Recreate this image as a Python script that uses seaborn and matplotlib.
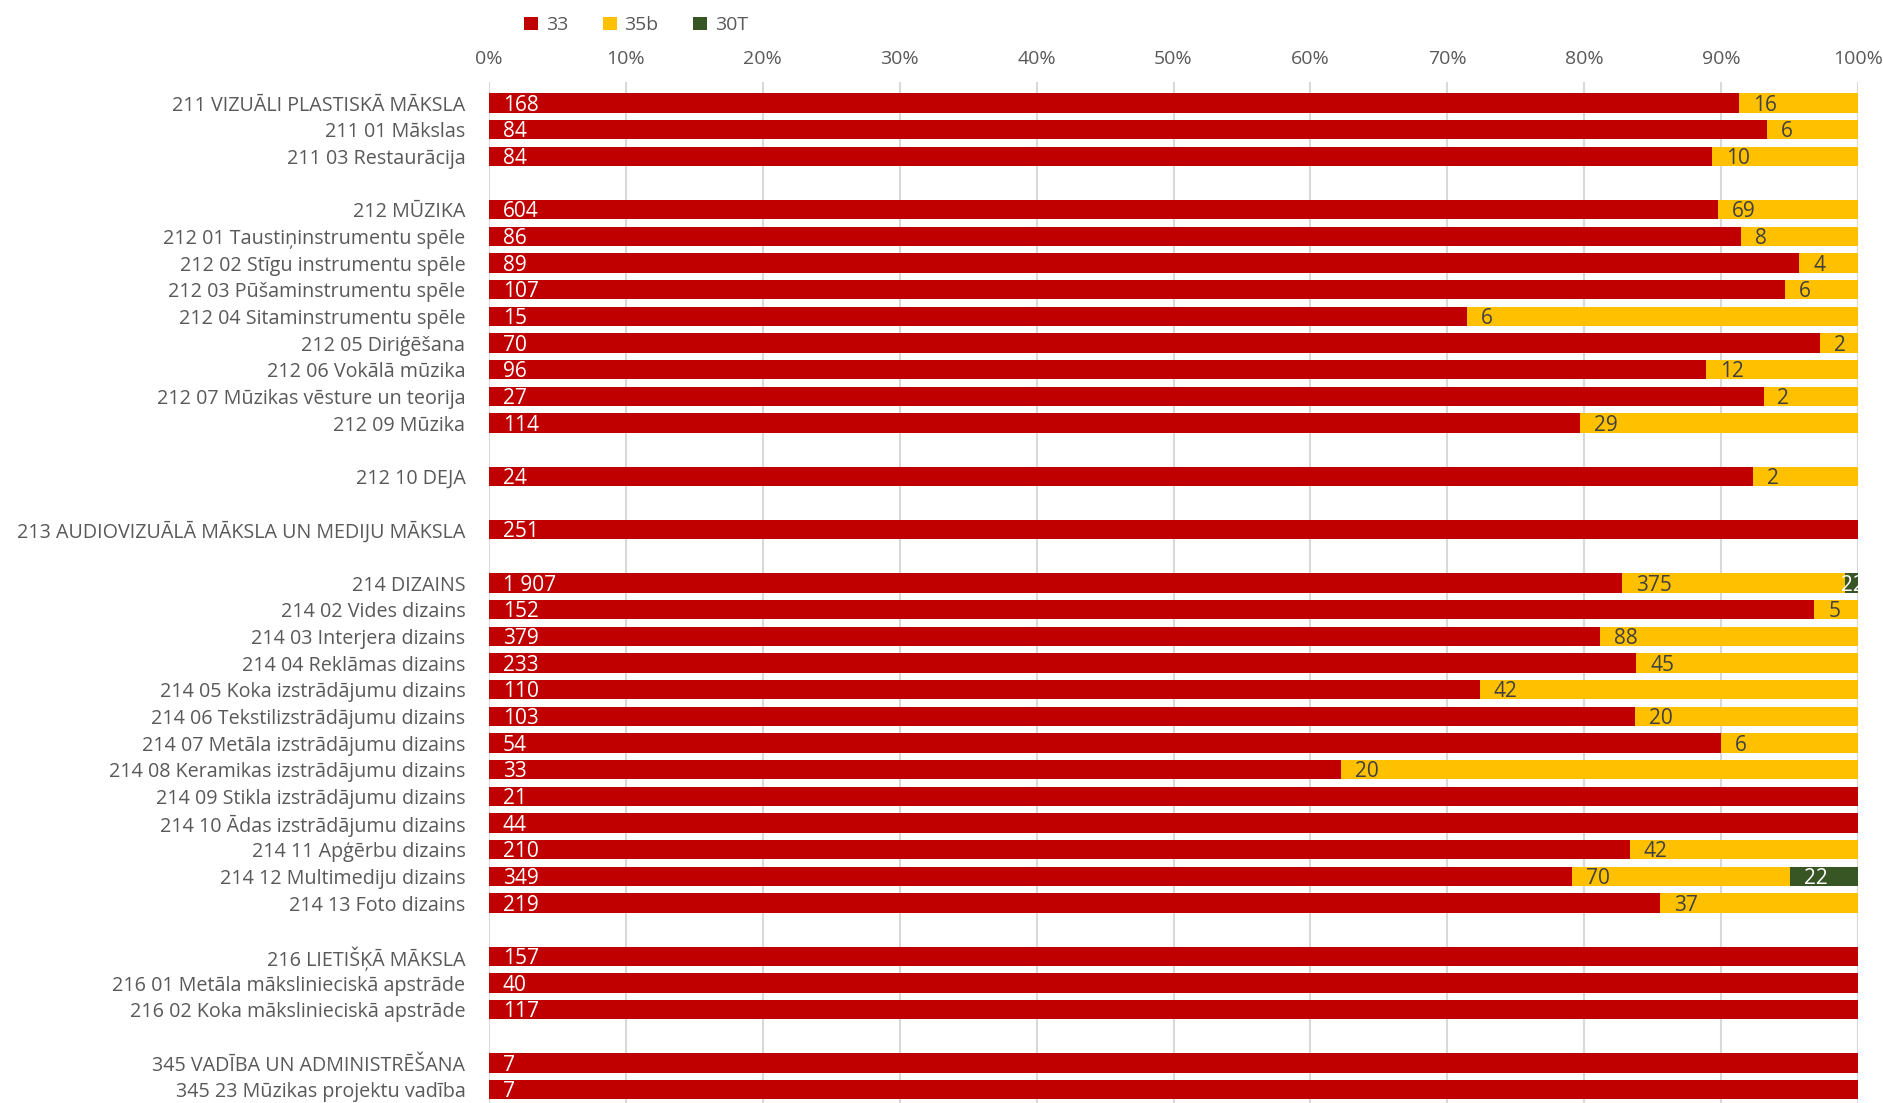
import pandas as pd
import numpy as np
import matplotlib
matplotlib.use('Agg')
import matplotlib.pyplot as plt
import seaborn as sns

# rows of the chart, None = empty spacer row
programs = [
    '211 VIZUĀLI PLASTISKĀ MĀKSLA', '211 01 Mākslas', '211 03 Restaurācija', None,
    '212 MŪZIKA', '212 01 Taustiņinstrumentu spēle', '212 02 Stīgu instrumentu spēle',
    '212 03 Pūšaminstrumentu spēle', '212 04 Sitaminstrumentu spēle', '212 05 Diriģēšana',
    '212 06 Vokālā mūzika', '212 07 Mūzikas vēsture un teorija', '212 09 Mūzika', None,
    '212 10 DEJA', None,
    '213 AUDIOVIZUĀLĀ MĀKSLA UN MEDIJU MĀKSLA', None,
    '214 DIZAINS', '214 02 Vides dizains', '214 03 Interjera dizains', '214 04 Reklāmas dizains',
    '214 05 Koka izstrādājumu dizains', '214 06 Tekstilizstrādājumu dizains',
    '214 07 Metāla izstrādājumu dizains', '214 08 Keramikas izstrādājumu dizains',
    '214 09 Stikla izstrādājumu dizains', '214 10 Ādas izstrādājumu dizains',
    '214 11 Apģērbu dizains', '214 12 Multimediju dizains', '214 13 Foto dizains', None,
    '216 LIETIŠĶĀ MĀKSLA', '216 01 Metāla mākslinieciskā apstrāde',
    '216 02 Koka mākslinieciskā apstrāde', None,
    '345 VADĪBA UN ADMINISTRĒŠANA', '345 23 Mūzikas projektu vadība',
]
v33 = [168, 84, 84, None, 604, 86, 89, 107, 15, 70, 96, 27, 114, None, 24, None, 251, None,
       1907, 152, 379, 233, 110, 103, 54, 33, 21, 44, 210, 349, 219, None, 157, 40, 117, None, 7, 7]
v35b = [16, 6, 10, None, 69, 8, 4, 6, 6, 2, 12, 2, 29, None, 2, None, 0, None,
        375, 5, 88, 45, 42, 20, 6, 20, 0, 0, 42, 70, 37, None, 0, 0, 0, None, 0, 0]
v30T = [0, 0, 0, None, 0, 0, 0, 0, 0, 0, 0, 0, 0, None, 0, None, 0, None,
        22, 0, 0, 0, 0, 0, 0, 0, 0, 0, 0, 22, 0, None, 0, 0, 0, None, 0, 0]

series = ['33', '35b', '30T']
colors = {'33': '#C00000', '35b': '#FFC000', '30T': '#375623'}

# unique names for the empty rows so seaborn keeps them as categories
order = []
k = 0
for p in programs:
    if p is None:
        k += 1
        order.append(' ' * k)
    else:
        order.append(p)

df = pd.DataFrame({'program': order, '33': v33, '35b': v35b, '30T': v30T})
df = df[[p is not None for p in programs]].copy()
df[series] = df[series].astype(float)
total = df[series].sum(axis=1)
df['p33'] = df['33'] / total * 100
df['p35b'] = df['35b'] / total * 100
df['p30T'] = df['30T'] / total * 100
df['c35b'] = df['p33'] + df['p35b']
df['c30T'] = df['c35b'] + df['p30T']

sns.set_theme(style='white')
plt.rcParams['font.family'] = ['Open Sans', 'DejaVu Sans']

fig = plt.figure(figsize=(18.84, 11.03), dpi=100)
ax = fig.add_axes([0.2596, 0.0, 0.7266, 0.9257])

# stacked bars: draw cumulative widths back to front
sns.barplot(data=df[df['30T'] > 0], x='c30T', y='program', order=order, orient='h',
            color=colors['30T'], width=0.72, linewidth=0, saturation=1, label='30T', ax=ax)
sns.barplot(data=df[df['35b'] > 0], x='c35b', y='program', order=order, orient='h',
            color=colors['35b'], width=0.72, linewidth=0, saturation=1, label='35b', ax=ax)
sns.barplot(data=df, x='p33', y='program', order=order, orient='h',
            color=colors['33'], width=0.72, linewidth=0, saturation=1, label='33', ax=ax)


def fmt(v):
    return f'{int(v):,}'.replace(',', ' ')


for _, r in df.iterrows():
    i = order.index(r['program'])
    ax.annotate(fmt(r['33']), xy=(0, i), xytext=(10, -1.5), textcoords='offset points',
                va='center', ha='left', color='white', fontsize=15)
    if r['35b'] > 0:
        ax.annotate(fmt(r['35b']), xy=(r['p33'], i), xytext=(10, -1.5), textcoords='offset points',
                    va='center', ha='left', color='#404040', fontsize=15)
    if r['30T'] > 0:
        # narrow segment: label gets squeezed against the left edge
        dx = 10 if r['p30T'] > 3 else -3
        ax.annotate(fmt(r['30T']), xy=(r['c35b'], i), xytext=(dx, -1.5), textcoords='offset points',
                    va='center', ha='left', color='white', fontsize=15)

ax.set_xlim(0, 100)
ax.set_ylim(len(order) - 0.5, -0.79)
ax.set_xticks(np.arange(0, 101, 10))
ax.set_xticklabels([f'{t}%' for t in range(0, 101, 10)])
ax.xaxis.tick_top()
ax.tick_params(axis='x', length=0, pad=10, labelsize=14, labelcolor='#595959')
ax.tick_params(axis='y', length=0, pad=17, labelsize=14.2, labelcolor='#595959')
ax.set_xlabel('')
ax.set_ylabel('')
ax.grid(axis='x', color='#D9D9D9', linewidth=1.5)
ax.set_axisbelow(True)
for s in ax.spines.values():
    s.set_visible(False)

handles, labels = ax.get_legend_handles_labels()
if ax.get_legend() is not None:
    ax.get_legend().remove()
hmap = dict(zip(labels, handles))
fig.legend([hmap[s] for s in series], series, loc='center left', bbox_to_anchor=(0.269, 0.977),
           ncol=3, frameon=False, fontsize=14, handlelength=0.7, handleheight=0.7,
           handletextpad=0.4, columnspacing=1.8, labelcolor='#595959')

fig.savefig('out.png', dpi=100)
